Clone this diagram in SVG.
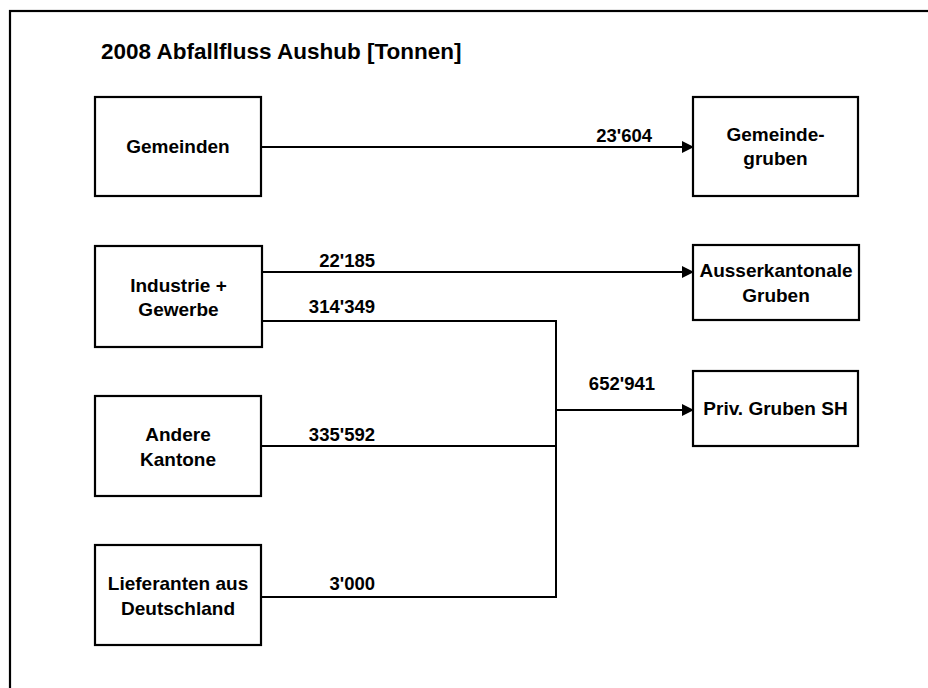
<svg xmlns="http://www.w3.org/2000/svg" width="928" height="688" viewBox="0 0 928 688">
<defs>
<marker id="arr" markerWidth="12" markerHeight="12" refX="11" refY="6" orient="auto" markerUnits="userSpaceOnUse">
<path d="M0,0 L12,6 L0,12 Z" fill="#000"/>
</marker>
<style>
.box{fill:#fff;stroke:#000;stroke-width:2.2}
.t{font-family:"Liberation Sans",Arial,sans-serif;font-weight:bold;font-size:19px;fill:#000;text-anchor:middle}
.n{font-family:"Liberation Sans",Arial,sans-serif;font-weight:bold;font-size:18.5px;fill:#000;text-anchor:end}
.c{fill:none;stroke:#000;stroke-width:2}
</style>
</defs>
<rect x="0" y="0" width="928" height="688" fill="#fff"/>
<rect x="10" y="11" width="940" height="700" fill="none" stroke="#000" stroke-width="2.2"/>
<text x="101" y="59" font-family="'Liberation Sans',Arial,sans-serif" font-weight="bold" font-size="22.5px" fill="#000">2008 Abfallfluss Aushub [Tonnen]</text>

<g id="connectors">
<line class="c" x1="261" y1="147" x2="693" y2="147" marker-end="url(#arr)"/>
<line class="c" x1="262" y1="272" x2="693" y2="272" marker-end="url(#arr)"/>
<polyline class="c" points="262,321 556,321 556,597"/>
<line class="c" x1="261" y1="446" x2="557" y2="446"/>
<line class="c" x1="261" y1="597" x2="557" y2="597"/>
<line class="c" x1="556" y1="410" x2="693" y2="410" marker-end="url(#arr)"/>
<text class="n" x="652" y="142">23'604</text>
<text class="n" x="375" y="267">22'185</text>
<text class="n" x="375" y="313">314'349</text>
<text class="n" x="375" y="441">335'592</text>
<text class="n" x="375" y="590">3'000</text>
<text class="n" x="655" y="390">652'941</text>
</g>

<g id="gemeinden">
<rect class="box" x="95" y="97" width="166" height="99"/>
<text class="t" x="178" y="153">Gemeinden</text>
</g>
<g id="gemeindegruben">
<rect class="box" x="693" y="97" width="165" height="99"/>
<text class="t" x="775.5" y="141">Gemeinde-</text>
<text class="t" x="775.5" y="165">gruben</text>
</g>
<g id="industrie">
<rect class="box" x="95" y="246" width="167" height="101"/>
<text class="t" x="178.5" y="292">Industrie +</text>
<text class="t" x="178.5" y="316">Gewerbe</text>
</g>
<g id="ausserkantonale">
<rect class="box" x="693" y="245" width="166" height="75"/>
<text class="t" x="776" y="277">Ausserkantonale</text>
<text class="t" x="776" y="302">Gruben</text>
</g>
<g id="priv">
<rect class="box" x="693" y="371" width="165" height="75"/>
<text class="t" x="775.5" y="415">Priv. Gruben SH</text>
</g>
<g id="andere">
<rect class="box" x="95" y="396" width="166" height="100"/>
<text class="t" x="178" y="441">Andere</text>
<text class="t" x="178" y="466">Kantone</text>
</g>
<g id="lieferanten">
<rect class="box" x="95" y="545" width="166" height="100"/>
<text class="t" x="178" y="590">Lieferanten aus</text>
<text class="t" x="178" y="615">Deutschland</text>
</g>
</svg>
